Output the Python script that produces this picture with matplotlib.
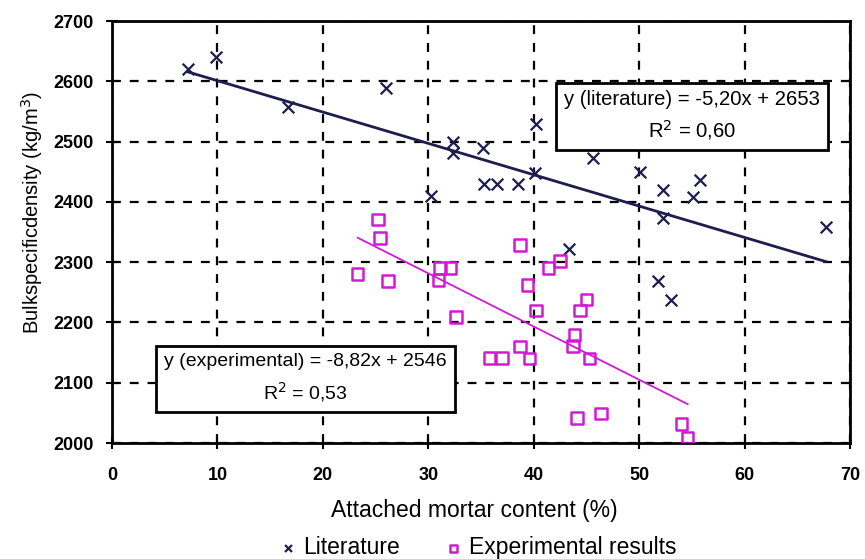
import matplotlib.pyplot as plt
import numpy as np

# literature data: attached mortar content (%) vs bulk specific density (kg/m3)
lit_x = [7.2, 9.9, 16.7, 26.0, 30.3, 32.3, 32.3, 35.2, 35.3, 36.5, 38.5, 40.1,
         40.2, 43.3, 45.6, 50.1, 51.8, 52.3, 52.3, 53.0, 55.1, 55.8, 67.7]
lit_y = [2620, 2640, 2558, 2589, 2410, 2500, 2481, 2490, 2430, 2430, 2430, 2448,
         2529, 2322, 2472, 2450, 2268, 2420, 2373, 2237, 2408, 2437, 2359]

# experimental results
exp_x = [23.3, 25.2, 25.4, 26.2, 30.95, 31.1, 32.1, 32.6, 35.8, 37.0, 38.7, 38.7, 39.4,
         39.6, 40.2, 41.4, 42.5, 43.7, 43.85, 44.1, 44.4, 45.0, 45.3, 46.4, 54.0, 54.6]
exp_y = [2280, 2371, 2340, 2269, 2270, 2290, 2290, 2209, 2141, 2141, 2160, 2328, 2262,
         2140, 2220, 2290, 2302, 2161, 2179, 2041, 2220, 2238, 2140, 2049, 2032, 2009]

# linear trend lines (slope, intercept)
lit_fit = (-5.20, 2653)
exp_fit = (-8.82, 2546)

xticks = [0, 10, 20, 30, 40, 50, 60, 70]
yticks = [2000, 2100, 2200, 2300, 2400, 2500, 2600, 2700]

plt.rcParams['font.family'] = ['Liberation Sans', 'DejaVu Sans']

navy = '#1d1d4e'
mag = '#d21ad2'

fig = plt.figure(figsize=(8.65, 5.59), dpi=100)
ax = fig.add_axes([0.1295, 0.2075, 0.8532, 0.7549])

ax.set_xlim(0, 70)
ax.set_ylim(2000, 2700)
ax.set_xticks(xticks)
ax.set_yticks(yticks)
ax.tick_params(direction='inout', length=9, width=1.5, labelsize=13)
ax.tick_params(axis='x', pad=13)
ax.tick_params(axis='y', pad=9)
for lab in ax.get_xticklabels() + ax.get_yticklabels():
    lab.set_fontweight('bold')
for sp in ax.spines.values():
    sp.set_linewidth(2)

ax.grid(True, color='black', linestyle=(0, (4, 4)), linewidth=1.6)
ax.set_axisbelow(True)

# trend lines over the range of each data set
lx = np.array([min(lit_x), max(lit_x)])
ax.plot(lx, lit_fit[0] * lx + lit_fit[1], color=navy, lw=2, zorder=3)
ex = np.array([min(exp_x), max(exp_x)])
ax.plot(ex, exp_fit[0] * ex + exp_fit[1], color=mag, lw=1.3, zorder=3)

lit = ax.scatter(lit_x, lit_y, marker='x', s=70, color=navy, linewidths=1.6,
                 zorder=4, label='Literature')
exp = ax.scatter(exp_x, exp_y, marker='s', s=70, facecolors='none', edgecolors=mag,
                 linewidths=1.8, zorder=4, label='Experimental results')

box = dict(boxstyle='square,pad=0.4', facecolor='white', edgecolor='black', linewidth=2)
ax.text(55.0, 2542, 'y (literature) = -5,20x + 2653\nR$^2$ = 0,60',
        ha='center', va='center', fontsize=14.6, multialignment='center',
        linespacing=1.45, bbox=box, zorder=5)
ax.text(18.35, 2107, 'y (experimental) = -8,82x + 2546\nR$^2$ = 0,53',
        ha='center', va='center', fontsize=14.0, multialignment='center',
        linespacing=1.5, bbox=box, zorder=5)

ax.set_xlabel('Attached mortar content (%)', fontsize=16.5)
ax.xaxis.set_label_coords(0.4905, -0.161)
ax.xaxis.label.set_va('center')
ax.set_ylabel('Bulkspecificdensity (kg/m$^3$)', fontsize=14.5)
ax.yaxis.set_label_coords(-0.108, 0.547)
ax.yaxis.label.set_va('center')

fig.legend(handles=[lit, exp], loc='center', bbox_to_anchor=(0.553, 0.0197),
           ncol=2, frameon=False, fontsize=16.5, handlelength=0.7,
           handletextpad=0.3, columnspacing=2.0, markerscale=0.6,
           borderpad=0, borderaxespad=0)

fig.savefig('out.png', dpi=100)
